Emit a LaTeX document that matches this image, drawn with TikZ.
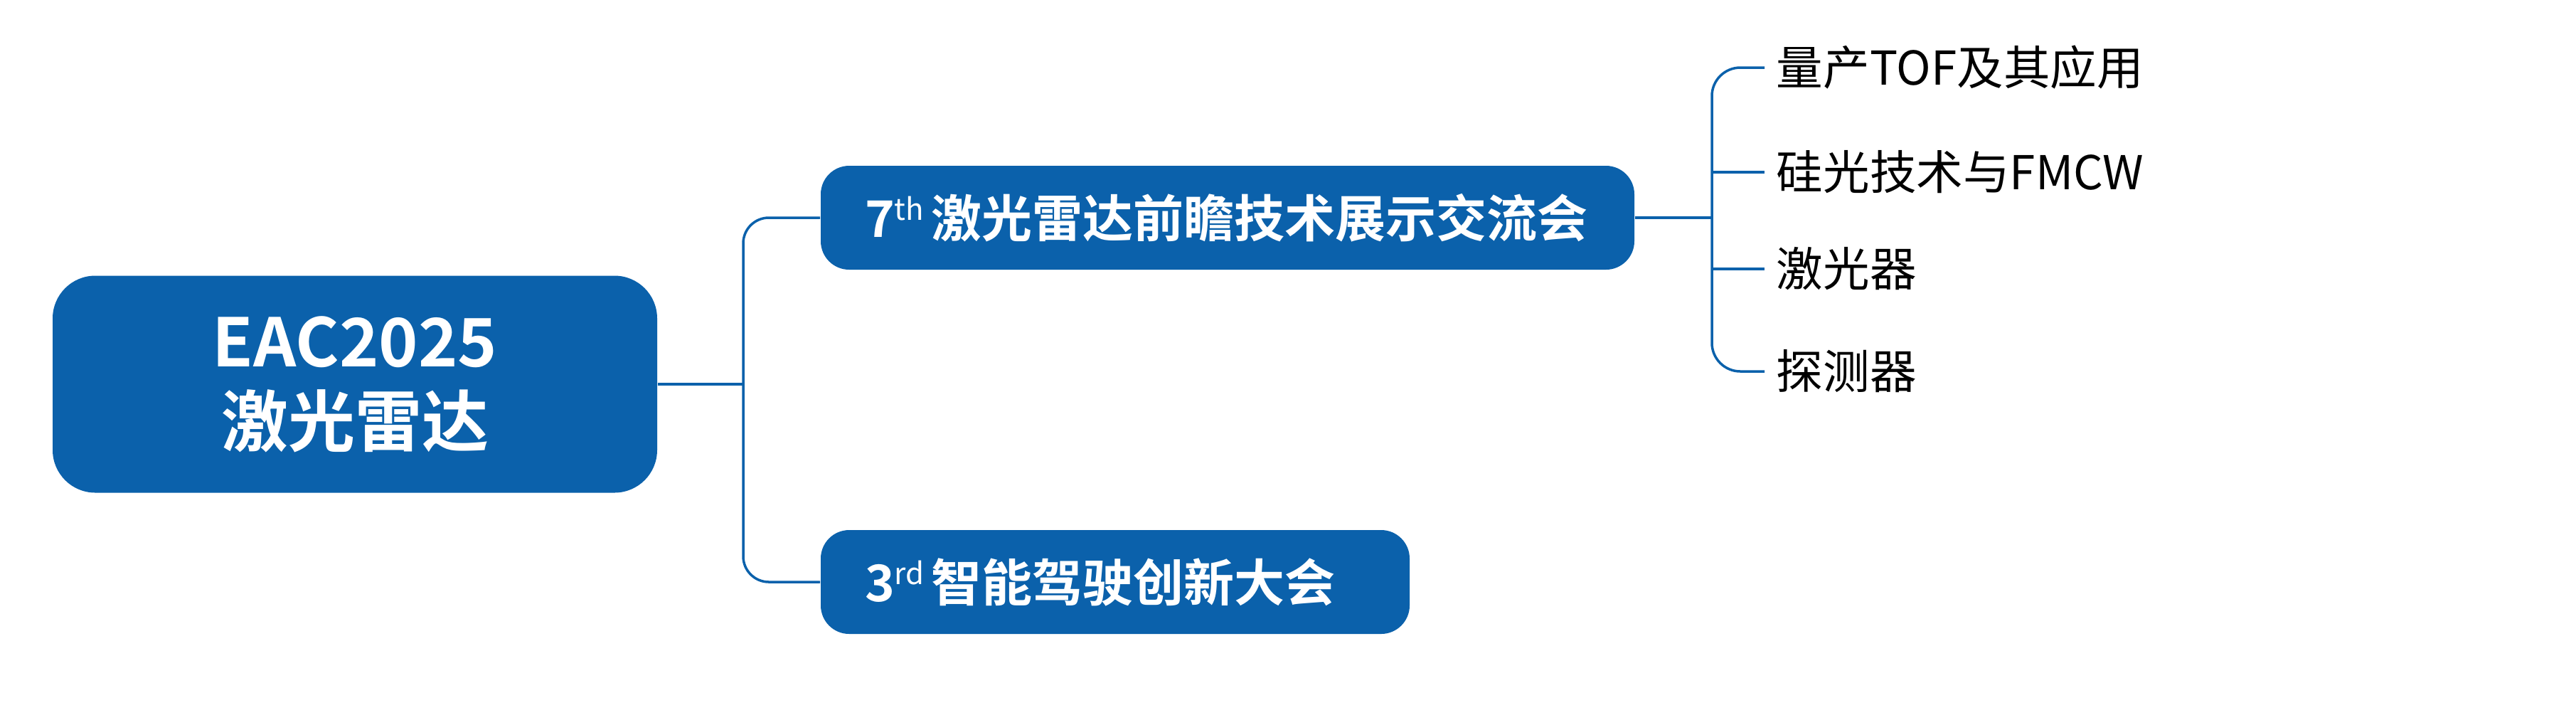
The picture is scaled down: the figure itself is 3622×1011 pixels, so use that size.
\documentclass[tikz,border=0pt]{standalone}
\usepackage{fontspec}
\setmainfont{Noto Sans CJK SC}[BoldFont={Noto Sans CJK SC Bold}]
\definecolor{mblue}{RGB}{11,97,171}
\newcommand{\supx}[1]{\raisebox{0.33em}{\mdseries\fontsize{10.5pt}{10.5pt}\selectfont #1}\hspace{2.5pt}}
\tikzset{
  conn/.style={draw=mblue, line width=0.875pt},
  rootbox/.style={fill=mblue, text=white, rounded corners=15pt, minimum width=212.5pt, minimum height=76.25pt, align=center, font=\bfseries\fontsize{23.5pt}{28pt}\selectfont},
  subbox/.style={fill=mblue, text=white, rounded corners=10pt, minimum height=36.5pt, inner xsep=15.5pt, align=left, font=\bfseries\fontsize{17.75pt}{21pt}\selectfont},
  leaf/.style={anchor=west, inner xsep=4pt, inner ysep=0pt, font=\fontsize{16.4pt}{20pt}\selectfont, text=black},
}
\begin{document}
\begin{tikzpicture}[x=0.25pt, y=-0.25pt]
\useasboundingbox (0,0) rectangle (3622,1011);
\node[rootbox] (root) at (499,540) {EAC2025\\激光雷达};
\node[subbox, text width=255pt] (b1) at (1726,306) {\mbox{7\supx{th}激光雷达前瞻技术展示交流会}};
\node[subbox, text width=176pt] (b2) at (1568,818) {\mbox{3\supx{rd}智能驾驶创新大会}};
\node[leaf] (l1) at (2481,95) {量产TOF及其应用};
\node[leaf] (l2) at (2481,242) {硅光技术与FMCW};
\node[leaf] (l3) at (2481,378) {激光器};
\node[leaf] (l4) at (2481,522) {探测器};
\coordinate (j1) at (1045,540);
\coordinate (j2) at (2407,306);
\draw[conn] (root.east) -- (j1);
\draw[conn, rounded corners=9pt] (b1.west) -| (j1) |- (b2.west);
\draw[conn] (b1.east) -- (j2);
\draw[conn, rounded corners=10pt] (l1.west) -| (j2) |- (l4.west);
\draw[conn] (j2 |- l2.west) -- (l2.west);
\draw[conn] (j2 |- l3.west) -- (l3.west);
\end{tikzpicture}
\end{document}
